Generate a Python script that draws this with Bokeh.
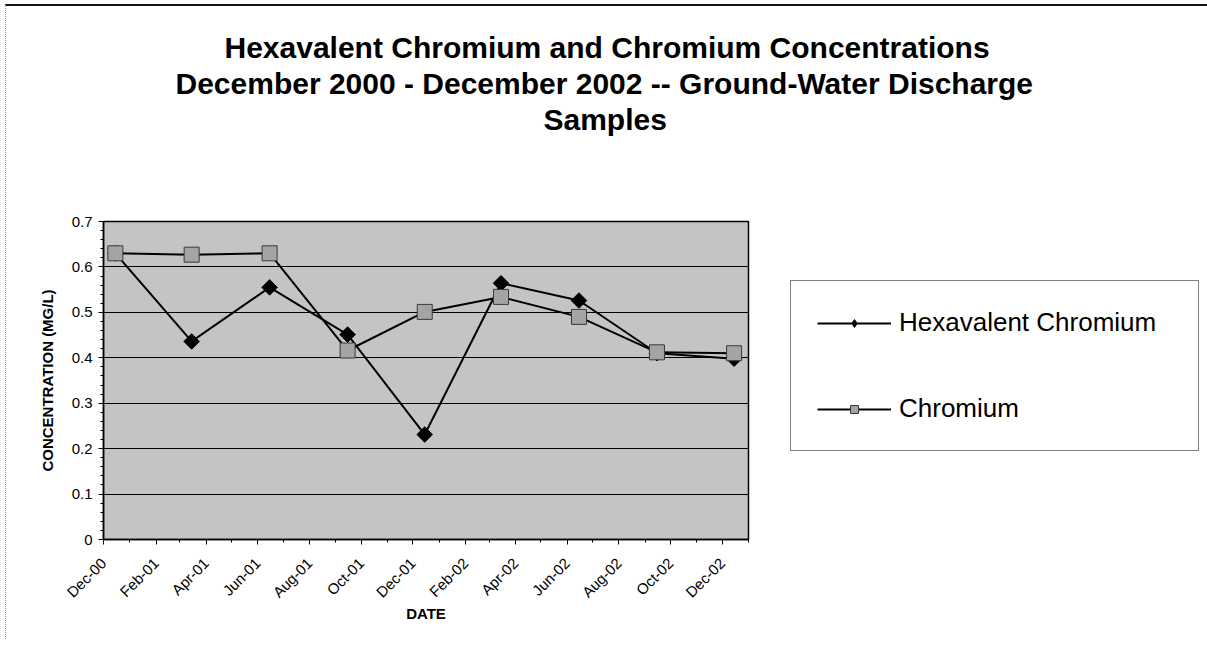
from datetime import datetime
from math import pi

from bokeh.plotting import figure
from bokeh.models import (Range1d, FixedTicker, Legend, LegendItem, Title,
                          ColumnDataSource, DatetimeTickFormatter)
from bokeh.embed import file_html
from bokeh.resources import INLINE

# ---------------- data ----------------
sample_dates = ["2000-12-15", "2001-03-15", "2001-06-15", "2001-09-15",
                "2001-12-15", "2002-03-15", "2002-06-15", "2002-09-15",
                "2002-12-15"]
hex_chromium = [0.630, 0.436, 0.555, 0.451, 0.231, 0.564, 0.526, 0.410, 0.398]
chromium = [0.630, 0.627, 0.630, 0.416, 0.501, 0.534, 0.490, 0.412, 0.410]

x_tick_dates = ["2000-12-01", "2001-02-01", "2001-04-01", "2001-06-01",
                "2001-08-01", "2001-10-01", "2001-12-01", "2002-02-01",
                "2002-04-01", "2002-06-01", "2002-08-01", "2002-10-01",
                "2002-12-01"]
x_tick_labels = ["Dec-00", "Feb-01", "Apr-01", "Jun-01", "Aug-01", "Oct-01",
                 "Dec-01", "Feb-02", "Apr-02", "Jun-02", "Aug-02", "Oct-02",
                 "Dec-02"]
y_ticks = [0, 0.1, 0.2, 0.3, 0.4, 0.5, 0.6, 0.7]
y_tick_labels = ["0", "0.1", "0.2", "0.3", "0.4", "0.5", "0.6", "0.7"]

title_lines = ["Hexavalent Chromium and Chromium Concentrations",
               "December 2000 - December 2002 -- Ground-Water Discharge",
               "Samples"]
series_names = ["Hexavalent Chromium", "Chromium"]
x_start, x_end = "2000-12-01", "2003-01-01"

FONT = "Liberation Sans"


def to_dt(s):
    return datetime.strptime(s, "%Y-%m-%d")


def to_ms(s):
    return int((to_dt(s) - datetime(1970, 1, 1)).total_seconds() * 1000)


source = ColumnDataSource(data=dict(
    date=[to_dt(d) for d in sample_dates],
    hexcr=hex_chromium,
    cr=chromium,
))

p = figure(frame_width=645, frame_height=318,
           min_border_left=97, min_border_right=442,
           min_border_top=215, min_border_bottom=100,
           x_axis_type="datetime",
           x_range=Range1d(to_dt(x_start), to_dt(x_end)),
           y_range=Range1d(0, 0.7),
           output_backend="svg", toolbar_location=None)
p.styles = {"border-top": "2px solid #111", "border-left": "1px dotted #999",
            "margin-left": "5px", "margin-top": "4px"}

p.background_fill_color = "#c4c4c4"
p.border_fill_color = "white"
p.outline_line_color = "black"
p.outline_line_width = 1.5

# grid
p.xgrid.visible = False
p.ygrid.ticker = FixedTicker(ticks=y_ticks)
p.ygrid.grid_line_color = "black"
p.ygrid.grid_line_width = 1.2

# axes
monthly = []
for yr in (2000, 2001, 2002):
    for m in range(1, 13):
        monthly.append(to_ms(f"{yr}-{m:02d}-01"))
monthly.append(to_ms("2003-01-01"))

p.yaxis.ticker = FixedTicker(ticks=y_ticks,
                             minor_ticks=[round(i * 0.02, 2) for i in range(36)])
p.yaxis.major_label_overrides = dict(zip(y_ticks, y_tick_labels))
p.yaxis.axis_label = "CONCENTRATION (MG/L)"

p.xaxis.ticker = FixedTicker(ticks=[to_ms(d) for d in x_tick_dates],
                             minor_ticks=monthly)
p.xaxis.formatter = DatetimeTickFormatter(days="%b-%y", months="%b-%y",
                                          years="%b-%y")
p.xaxis.major_label_overrides = {to_ms(d): l for d, l in zip(x_tick_dates, x_tick_labels)}
p.xaxis.major_label_orientation = pi / 4
p.xaxis.axis_label = "DATE"

for ax in (p.xaxis[0], p.yaxis[0]):
    ax.axis_line_color = "black"
    ax.axis_line_width = 1.5
    ax.major_tick_line_color = "black"
    ax.minor_tick_line_color = "black"
    ax.major_tick_in = 0
    ax.major_tick_out = 5
    ax.minor_tick_in = 0
    ax.minor_tick_out = 3
    ax.major_label_text_font = FONT
    ax.major_label_text_font_size = "15px"
    ax.major_label_text_color = "black"
    ax.axis_label_text_font = FONT
    ax.axis_label_text_font_size = "15px"
    ax.axis_label_text_font_style = "bold"
    ax.axis_label_text_color = "black"
p.yaxis.major_label_standoff = 6
p.yaxis.axis_label_standoff = 13
p.xaxis.major_label_standoff = 16
p.xaxis.axis_label_standoff = -5

# series
l1 = p.line("date", "hexcr", source=source, line_color="black", line_width=2)
l2 = p.line("date", "cr", source=source, line_color="black", line_width=2)
s1 = p.scatter("date", "hexcr", source=source, marker="square", angle=pi / 4,
               size=11, fill_color="black", line_color="black")
s2 = p.scatter("date", "cr", source=source, marker="square", size=15,
               fill_color="#a4a4a4", line_color="#3a3a3a", line_width=1)
# legend-only proxy marker (diamond) for the hexavalent series
proxy = p.scatter(x=[float("nan")], y=[float("nan")], marker="diamond",
                  size=14, fill_color="black", line_color="black")

legend = Legend(items=[LegendItem(label=series_names[0], renderers=[l1, proxy]),
                       LegendItem(label=series_names[1], renderers=[l2, s2])],
                location=(42, 88), margin=0, padding=26, spacing=55,
                glyph_width=74, glyph_height=20, label_standoff=8,
                label_width=273, label_height=20,
                label_text_font=FONT, label_text_font_size="26px",
                label_text_color="black",
                border_line_color="black", border_line_width=1,
                background_fill_color="white")
p.add_layout(legend, "right")

# title: spacer first (closest to frame), then lines bottom-up
title_offsets = [121, 72, 440]
p.add_layout(Title(text=" ", text_font_size="74px", standoff=0), "above")
for t, off in reversed(list(zip(title_lines, title_offsets))):
    p.add_layout(Title(text=t, align="left", offset=off, standoff=1,
                       text_font=FONT, text_font_style="bold",
                       text_font_size="30px", text_color="black"), "above")

open("out.html", "w").write(file_html(p, INLINE))
